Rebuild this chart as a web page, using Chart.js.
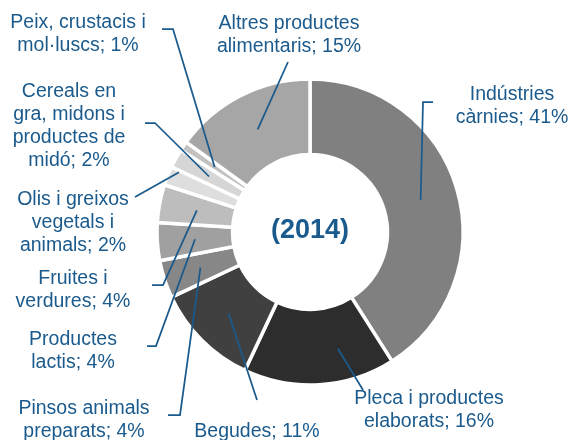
<!DOCTYPE html>
<html>
<head>
<meta charset="utf-8">
<script src="https://cdn.jsdelivr.net/npm/chart.js@4.4.1/dist/chart.umd.min.js"></script>
<style>
  html, body { margin: 0; padding: 0; background: #fff; }
  #wrap { width: 570px; height: 440px; }
</style>
</head>
<body>
<div id="wrap"><canvas id="chart" width="570" height="440"></canvas></div>
<script>
// Data (clockwise from 12 o'clock)
const categories = [
  'Indústries càrnies',
  'Pleca i productes elaborats',
  'Begudes',
  'Pinsos animals preparats',
  'Productes lactis',
  'Fruites i verdures',
  'Olis i greixos vegetals i animals',
  'Cereals en gra, midons i productes de midó',
  'Peix, crustacis i mol·luscs',
  'Altres productes alimentaris'
];
const shares = [41, 16, 11, 4, 4, 4, 2, 2, 1, 15];
const centerText = '(2014)';

// Styles
const sliceColors = ['#808080', '#2d2d2d', '#404040', '#878787', '#a0a0a0',
                     '#bdbdbd', '#dedede', '#d6d6d6', '#c2c2c2', '#a6a6a6'];
const BLUE = '#1a5a8c';
const FONT = '"Liberation Sans", Arial, sans-serif';

// Label placement: x = text centre, y = baseline of first line,
// leader = points from the label side, fa/fr = anchor position inside the slice
const labelLayout = [
  { x: 512, y: 100, wrap: 120, leader: [[433, 102], [423, 102]] },
  { x: 429, y: 404, wrap: 160, leader: [[363, 390]], fa: 0.33, fr: 0.56 },
  { x: 257, y: 437, wrap: 200, leader: [[257, 400]] },
  { x: 84,  y: 414, wrap: 145, leader: [[168, 415], [180, 415]] },
  { x: 73,  y: 345, wrap: 122, leader: [[147, 346], [156, 346]] },
  { x: 73,  y: 284, wrap: 122, leader: [[152, 285], [163, 285]] },
  { x: 73,  y: 205, wrap: 122, leader: [[135, 197]], fa: 0.9, fr: 0.88 },
  { x: 69,  y: 97,  wrap: 122, leader: [[145, 123], [155, 123]] },
  { x: 78,  y: 28,  wrap: 150, leader: [[162, 29], [173, 29]] },
  { x: 289, y: 29,  wrap: 160, leader: [[288, 62]] }
];
const LINE_H = 23;

function wrapText(ctx, text, maxW) {
  const words = text.split(' ');
  const lines = [];
  let cur = '';
  words.forEach(w => {
    const test = cur ? cur + ' ' + w : w;
    if (cur && ctx.measureText(test).width > maxW) {
      lines.push(cur);
      cur = w;
    } else {
      cur = test;
    }
  });
  if (cur) lines.push(cur);
  return lines;
}

const labelPlugin = {
  id: 'sliceLabels',
  afterDatasetsDraw(chart) {
    const ctx = chart.ctx;
    const arcs = chart.getDatasetMeta(0).data;
    ctx.save();
    ctx.font = '19.5px ' + FONT;
    ctx.fillStyle = BLUE;
    ctx.strokeStyle = BLUE;
    ctx.lineWidth = 1.75;
    ctx.textAlign = 'center';
    ctx.textBaseline = 'alphabetic';

    arcs.forEach((arc, i) => {
      const p = arc.getProps(['x', 'y', 'startAngle', 'endAngle', 'innerRadius', 'outerRadius'], true);
      const lay = labelLayout[i];
      const a = p.startAngle + (p.endAngle - p.startAngle) * (lay.fa ?? 0.5);
      const r = p.innerRadius + (p.outerRadius - p.innerRadius) * (lay.fr ?? 0.5);
      const ax = p.x + Math.cos(a) * r;
      const ay = p.y + Math.sin(a) * r;

      // leader line
      ctx.beginPath();
      ctx.moveTo(lay.leader[0][0], lay.leader[0][1]);
      for (let k = 1; k < lay.leader.length; k++) ctx.lineTo(lay.leader[k][0], lay.leader[k][1]);
      ctx.lineTo(ax, ay);
      ctx.stroke();

      // text
      const lines = wrapText(ctx, categories[i] + '; ' + shares[i] + '%', lay.wrap);
      lines.forEach((ln, k) => ctx.fillText(ln, lay.x, lay.y + k * LINE_H));
    });

    // centre label
    const c = arcs[0];
    ctx.font = 'bold 27px ' + FONT;
    ctx.fillText(centerText, c.x, c.y + 6);
    ctx.restore();
  }
};

new Chart(document.getElementById('chart').getContext('2d'), {
  type: 'doughnut',
  data: {
    labels: categories,
    datasets: [{
      data: shares,
      backgroundColor: sliceColors,
      borderColor: '#ffffff',
      borderWidth: 3.5,
      hoverOffset: 0
    }]
  },
  options: {
    responsive: false,
    animation: false,
    radius: 153,
    cutout: '50.6%',
    layout: { padding: { left: 50, top: 24, right: 0, bottom: 0 } },
    plugins: {
      legend: { display: false },
      tooltip: { enabled: false }
    }
  },
  plugins: [labelPlugin]
});
</script>
</body>
</html>
